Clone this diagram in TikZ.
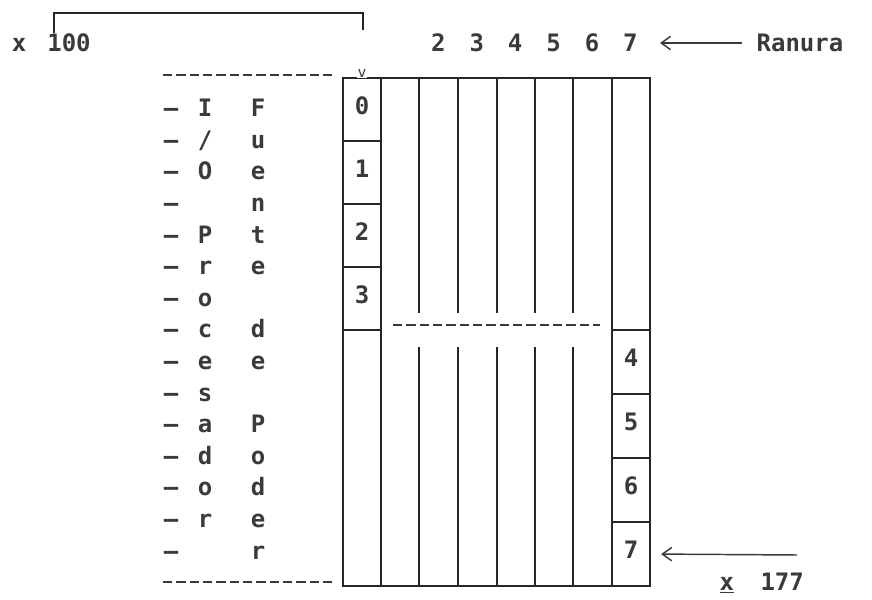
\documentclass[tikz,border=0pt]{standalone}
\usepackage{fontspec}
\usepackage{tikz}
\usetikzlibrary{arrows.meta,positioning}
\newfontfamily\dotfont{DejaVu Sans Mono}
\definecolor{ink}{HTML}{262626}
\definecolor{inkgray}{HTML}{3A3A3A}
\tikzset{
  slotbox/.style={draw=ink,line width=1.7pt,
                  minimum width=28.5pt,minimum height=47.25pt,inner sep=0pt,
                  text height=13pt,text depth=6pt,
                  font=\dotfont\bfseries\fontsize{18}{20}\selectfont,text=inkgray},
  labeltxt/.style={inner sep=1pt,text height=13pt,text depth=0pt,
                   font=\dotfont\bfseries\fontsize{18}{20}\selectfont,text=inkgray},
  frameline/.style={draw=ink,line width=1.7pt},
  bracketline/.style={draw=ink,line width=1.3pt},
  dashrule/.style={draw=inkgray,line width=1.3pt,dash pattern=on 7pt off 3pt},
  ptrarr/.style={{Straight Barb[length=7pt,width=10pt]}-,line width=1.1pt,color=inkgray}
}

\begin{document}
\begin{tikzpicture}[x=0.75pt,y=-0.75pt]
  \useasboundingbox (0,0) rectangle (872,600);
  % card cage
  \draw[frameline] (343,78) rectangle (650,586);
  \draw[frameline] (381,78) -- (381,586);
  \draw[frameline] (612,78) -- (612,586);
  \foreach \x in {419,458,497,535,573} {
    \draw[frameline] (\x,78) -- (\x,313);
    \draw[frameline] (\x,347) -- (\x,586);
  }
  \draw[dashrule] (393,325) -- (600,325);
  % slots
  \foreach \i in {0,...,3}
    \node[slotbox] (slot\i) at (362,109.5+63*\i) {\i};
  \foreach \i in {4,...,7}
    \node[slotbox,minimum height=48pt] (slot\i) at (631,106+64*\i) {\i};
  \node[labeltxt,fill=white,inner sep=0.5pt,text height=6pt,
        font=\dotfont\fontsize{11}{12}\selectfont] (mark) at (362,73) {v};
  % left side labels
  \draw[dashrule] (163,75) -- (332,75);
  \draw[dashrule] (163,582) -- (332,582);
  \foreach \a [count=\i from 0] in {I,/,O,{},P,r,o,c,e,s,a,d,o,r,{}} {
    \node[labeltxt] (dash\i) at (171,108+31.6*\i) {–};
    \node[labeltxt] (io\i) at (205,108+31.6*\i) {\a};
  }
  \foreach \b [count=\i from 0] in {F,u,e,n,t,e,{},d,e,{},P,o,d,e,r}
    \node[labeltxt] (pwr\i) at (258,108+31.6*\i) {\b};
  % top labels
  \node[labeltxt] (xmul) at (19,43) {x};
  \node[labeltxt] (hund) at (69,43) {100};
  \coordinate (hundend) at (363,30);
  \draw[bracketline] ([xshift=6.4pt]hund.north west) |- (363,13) -- (hundend);
  \foreach \n in {2,...,7}
    \node[labeltxt] (col\n) at (400+38.4*\n-38.4,43) {\n};
  \node[labeltxt,anchor=west] (ranura) at (755,43) {Ranura};
  \coordinate (ranuratip) at (660,43);
  \draw[ptrarr,shorten >=10pt] (ranuratip) -- (ranura.west);
  % bottom pointer
  \coordinate (slotend) at (797,555);
  \draw[ptrarr,shorten <=7.5pt] (slot7.east) -- (slotend);
  \node[labeltxt,anchor=west] (count) at (718,582) {\underline{x}\hspace{9pt} 177};
\end{tikzpicture}
\end{document}
